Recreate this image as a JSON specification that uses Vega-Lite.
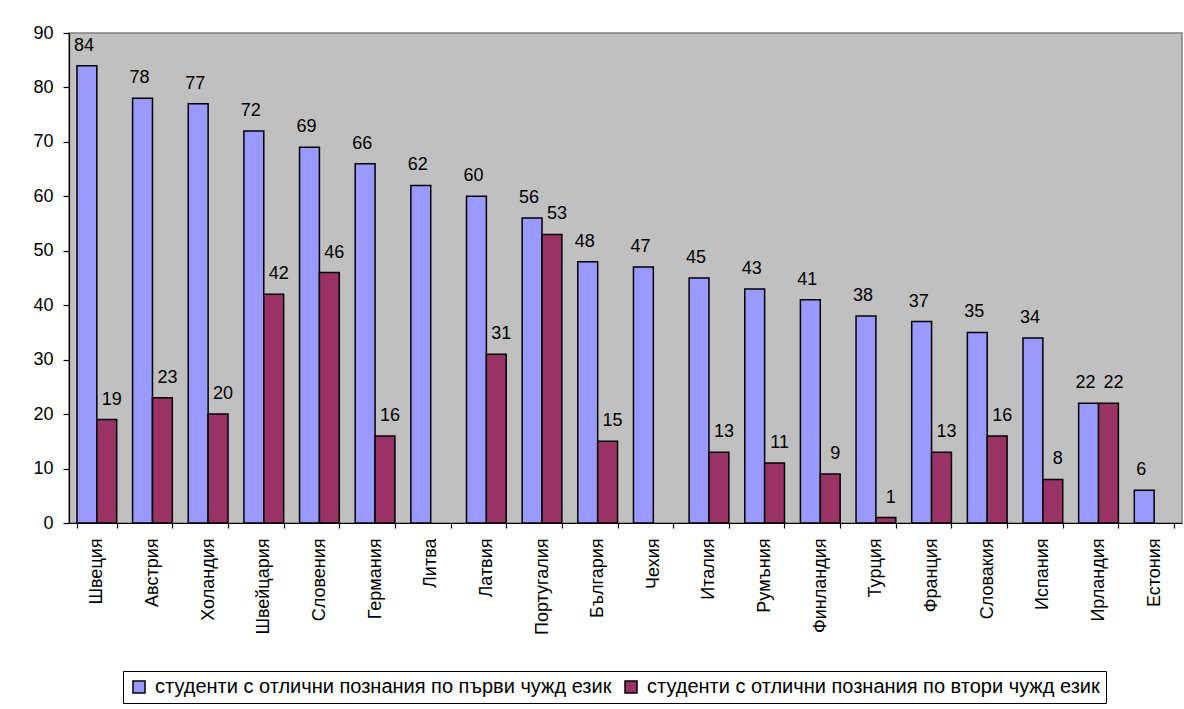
{
  "$schema": "https://vega.github.io/schema/vega-lite/v6.json",
  "autosize": "none",
  "width": 1113,
  "height": 490,
  "padding": {"left": 69, "top": 33, "right": 2, "bottom": 186},
  "background": "white",
  "config": {
    "font": "Liberation Sans",
    "view": {"fill": "#C0C0C0", "stroke": "#808080", "strokeWidth": 1.5},
    "axis": {"domainColor": "black", "tickColor": "black", "labelColor": "black", "labelFontSize": 18, "labelFont": "Liberation Sans", "grid": false, "domainWidth": 1.2, "tickWidth": 1.2}
  },
  "data": {
    "values": [
      {"country": "Швеция", "series": "студенти с отлични познания по първи чужд език", "value": 84},
      {"country": "Швеция", "series": "студенти с отлични познания по втори чужд език", "value": 19},
      {"country": "Австрия", "series": "студенти с отлични познания по първи чужд език", "value": 78},
      {"country": "Австрия", "series": "студенти с отлични познания по втори чужд език", "value": 23},
      {"country": "Холандия", "series": "студенти с отлични познания по първи чужд език", "value": 77},
      {"country": "Холандия", "series": "студенти с отлични познания по втори чужд език", "value": 20},
      {"country": "Швейцария", "series": "студенти с отлични познания по първи чужд език", "value": 72},
      {"country": "Швейцария", "series": "студенти с отлични познания по втори чужд език", "value": 42},
      {"country": "Словения", "series": "студенти с отлични познания по първи чужд език", "value": 69},
      {"country": "Словения", "series": "студенти с отлични познания по втори чужд език", "value": 46},
      {"country": "Германия", "series": "студенти с отлични познания по първи чужд език", "value": 66},
      {"country": "Германия", "series": "студенти с отлични познания по втори чужд език", "value": 16},
      {"country": "Литва", "series": "студенти с отлични познания по първи чужд език", "value": 62},
      {"country": "Латвия", "series": "студенти с отлични познания по първи чужд език", "value": 60},
      {"country": "Латвия", "series": "студенти с отлични познания по втори чужд език", "value": 31},
      {"country": "Португалия", "series": "студенти с отлични познания по първи чужд език", "value": 56},
      {"country": "Португалия", "series": "студенти с отлични познания по втори чужд език", "value": 53},
      {"country": "България", "series": "студенти с отлични познания по първи чужд език", "value": 48},
      {"country": "България", "series": "студенти с отлични познания по втори чужд език", "value": 15},
      {"country": "Чехия", "series": "студенти с отлични познания по първи чужд език", "value": 47},
      {"country": "Италия", "series": "студенти с отлични познания по първи чужд език", "value": 45},
      {"country": "Италия", "series": "студенти с отлични познания по втори чужд език", "value": 13},
      {"country": "Румъния", "series": "студенти с отлични познания по първи чужд език", "value": 43},
      {"country": "Румъния", "series": "студенти с отлични познания по втори чужд език", "value": 11},
      {"country": "Финландия", "series": "студенти с отлични познания по първи чужд език", "value": 41},
      {"country": "Финландия", "series": "студенти с отлични познания по втори чужд език", "value": 9},
      {"country": "Турция", "series": "студенти с отлични познания по първи чужд език", "value": 38},
      {"country": "Турция", "series": "студенти с отлични познания по втори чужд език", "value": 1},
      {"country": "Франция", "series": "студенти с отлични познания по първи чужд език", "value": 37},
      {"country": "Франция", "series": "студенти с отлични познания по втори чужд език", "value": 13},
      {"country": "Словакия", "series": "студенти с отлични познания по първи чужд език", "value": 35},
      {"country": "Словакия", "series": "студенти с отлични познания по втори чужд език", "value": 16},
      {"country": "Испания", "series": "студенти с отлични познания по първи чужд език", "value": 34},
      {"country": "Испания", "series": "студенти с отлични познания по втори чужд език", "value": 8},
      {"country": "Ирландия", "series": "студенти с отлични познания по първи чужд език", "value": 22},
      {"country": "Ирландия", "series": "студенти с отлични познания по втори чужд език", "value": 22},
      {"country": "Естония", "series": "студенти с отлични познания по първи чужд език", "value": 6}
    ]
  },
  "encoding": {
    "x": {
      "field": "country",
      "type": "nominal",
      "sort": null,
      "scale": {"paddingInner": 0.286, "paddingOuter": 0.143},
      "axis": {"title": null, "labelAngle": -90, "labelAlign": "right", "labelBaseline": "middle", "labelPadding": 10, "tickSize": 5, "tickBand": "extent", "labelOverlap": false, "labelLimit": 300, "labelFontSize": 18, "labelFont": "Liberation Sans"}
    },
    "xOffset": {
      "field": "series",
      "type": "nominal",
      "scale": {"domain": ["студенти с отлични познания по първи чужд език", "студенти с отлични познания по втори чужд език"], "paddingInner": 0, "paddingOuter": 0}
    },
    "y": {
      "field": "value",
      "type": "quantitative",
      "scale": {"domain": [0, 90], "nice": false},
      "axis": {"title": null, "values": [0, 10, 20, 30, 40, 50, 60, 70, 80, 90], "tickSize": 6, "labelPadding": 10, "labelFontSize": 18, "labelFont": "Liberation Sans"}
    }
  },
  "layer": [
    {
      "mark": {"type": "bar", "stroke": "black", "strokeWidth": 1.5},
      "encoding": {
        "color": {
          "field": "series",
          "type": "nominal",
          "scale": {"domain": ["студенти с отлични познания по първи чужд език", "студенти с отлични познания по втори чужд език"], "range": ["#9999FF", "#993366"]},
          "legend": {
            "title": null,
            "orient": "none",
            "legendX": 54,
            "legendY": 638,
            "direction": "horizontal",
            "strokeColor": "black",
            "fillColor": "white",
            "padding": 6,
            "symbolType": "square",
            "symbolSize": 144,
            "symbolStrokeColor": "black",
            "symbolStrokeWidth": 1.5,
            "symbolOpacity": 1,
            "labelFontSize": 20,
            "labelFont": "Liberation Sans",
            "labelColor": "black",
            "labelOffset": 6,
            "labelLimit": 600,
            "columnPadding": 9
          }
        }
      }
    },
    {
      "transform": [{"filter": "datum.series === 'студенти с отлични познания по първи чужд език'"}],
      "mark": {"type": "text", "baseline": "alphabetic", "align": "center", "dy": -15, "dx": -3, "fontSize": 18, "font": "Liberation Sans", "color": "black"},
      "encoding": {"text": {"field": "value", "type": "quantitative"}}
    },
    {
      "transform": [{"filter": "datum.series === 'студенти с отлични познания по втори чужд език'"}],
      "mark": {"type": "text", "baseline": "alphabetic", "align": "center", "dy": -15, "dx": 5, "fontSize": 18, "font": "Liberation Sans", "color": "black"},
      "encoding": {"text": {"field": "value", "type": "quantitative"}}
    }
  ]
}
